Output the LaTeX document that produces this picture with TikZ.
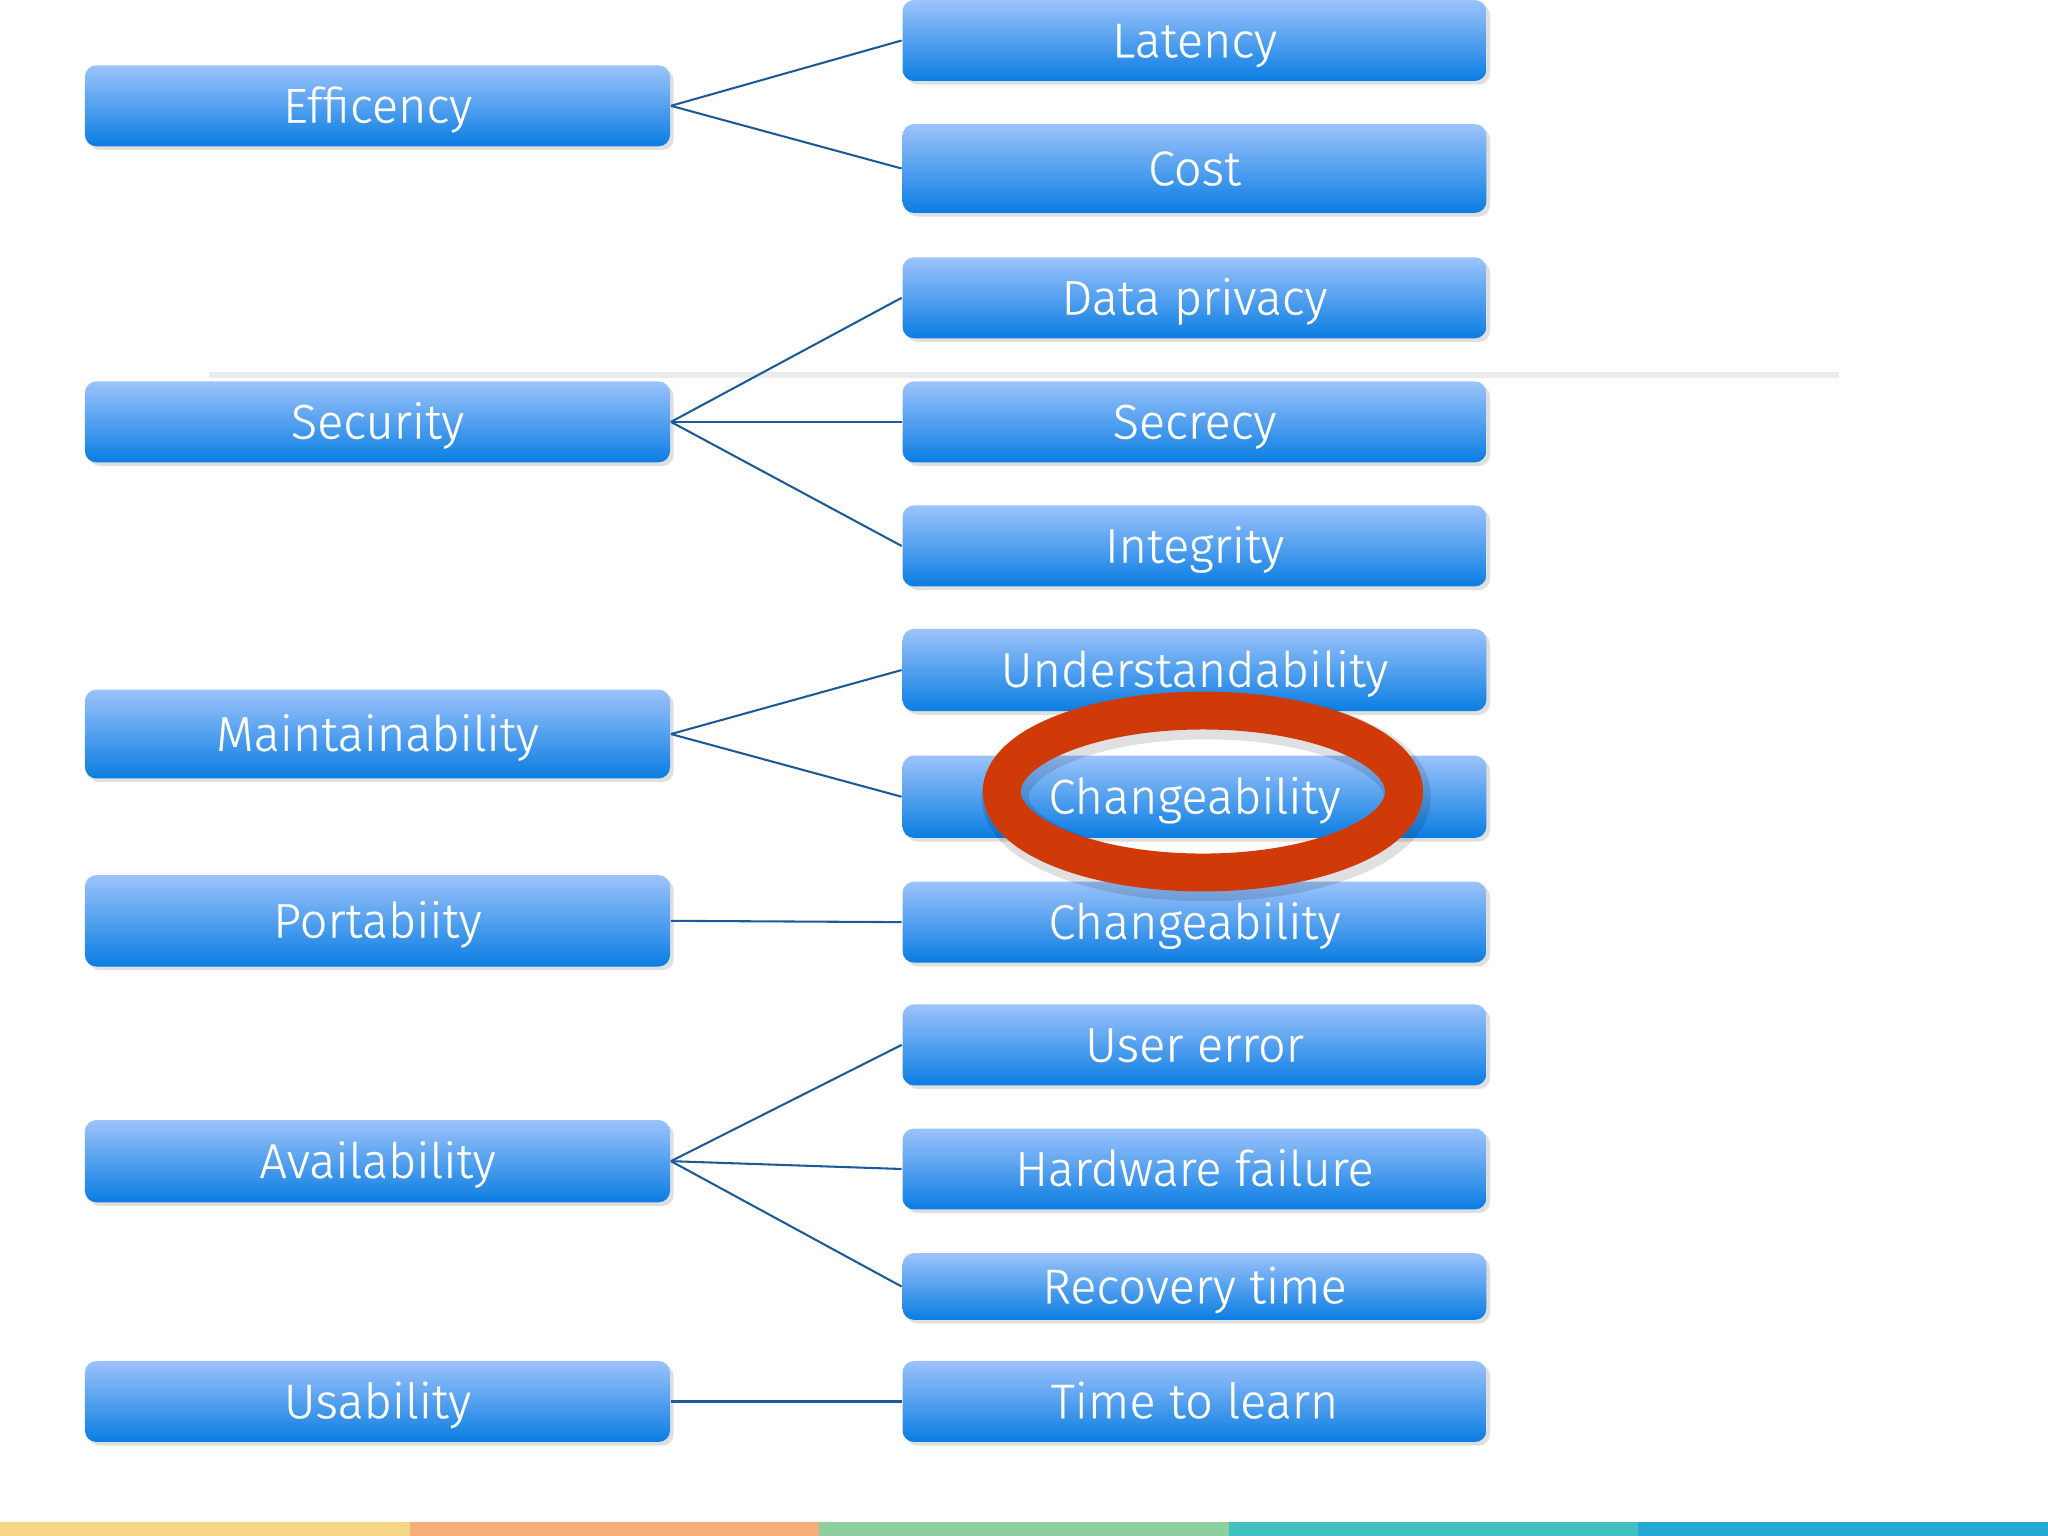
\documentclass[tikz,border=0pt]{standalone}
\usepackage{fontspec}
\setmainfont{Fira Sans}[UprightFont=* Light, UprightFeatures={FakeBold=0.4}]
\usepackage{xcolor}
\usetikzlibrary{shadows}

\definecolor{boxtop}{HTML}{9CC3FB}
\definecolor{boxbottom}{HTML}{0A7DE2}
\definecolor{linkblue}{HTML}{1D5A98}
\definecolor{ringred}{HTML}{D03A08}
\definecolor{bandA}{HTML}{F7D785}
\definecolor{bandB}{HTML}{F5AE78}
\definecolor{bandC}{HTML}{8ECF9F}
\definecolor{bandD}{HTML}{40C0BF}
\definecolor{bandE}{HTML}{25A8D3}

\tikzset{
    qbox/.style={rectangle, rounded corners=2.5pt, top color=boxtop, bottom color=boxbottom,
        text=white, inner sep=0pt, text height=7.3pt, text depth=0pt,
        font=\fontsize{10.6}{12}\selectfont,
        drop shadow={opacity=0.25, shadow xshift=0.8pt, shadow yshift=-0.8pt}},
    link/.style={draw=linkblue, line width=0.45pt}
}

\begin{document}
\begin{tikzpicture}[x=0.1mm, y=-0.1mm]

    % Page area and background
    \fill[white] (0,0) rectangle (1568,1176);
    \useasboundingbox (0,0) rectangle (1568,1176);

    % Faint rule behind the security row
    \draw[black!8, line width=1.2pt] (160,287) -- (1408,287);

    % Quality attributes (left column)
    \foreach \i/\y/\h/\txt in {1/81/62/Efficency, 2/323/62/Security, 3/562/68/Maintainability,
        4/705/70/Portabiity, 5/889/63/Availability, 6/1073/62/Usability} {
        \node[qbox, minimum width=4.48cm, minimum height=\h*0.1mm] (l\i) at (289,\y) {\txt};
    }

    % Refinements (right column)
    \foreach \i/\y/\h/\txt in {1/31/62/Latency, 2/129/68/Cost, 3/228/62/Data privacy,
        4/323/62/Secrecy, 5/418/62/Integrity, 6/513/63/Understandability,
        7/610/63/Changeability, 8/706/62/Changeability, 9/800/62/User error,
        10/895/62/Hardware failure, 11/985/51/Recovery time, 12/1073/62/Time to learn} {
        \node[qbox, minimum width=4.47cm, minimum height=\h*0.1mm] (r\i) at (914.5,\y) {\txt};
    }

    % Connect attributes to refinements
    \foreach \a/\b in {1/1, 1/2, 2/3, 2/4, 2/5, 3/6, 3/7, 4/8, 5/9, 5/10, 5/11, 6/12} {
        \draw[link] (l\a.east) -- (r\b.west);
    }

    % Red ring around the second refinement of maintainability
    \draw[black, opacity=0.12, line width=0.36cm] (r7.center) ++(9,0) ellipse (1.54cm and 0.62cm);
    \draw[ringred, line width=0.29cm] (r7.center) ++(6.5,-4) ellipse (1.54cm and 0.62cm);

    % Colour band along the bottom
    \foreach \c [count=\k from 0] in {bandA, bandB, bandC, bandD, bandE} {
        \fill[\c] (\k*313.6,1165) rectangle ({(\k+1)*313.6},1176);
    }
\end{tikzpicture}
\end{document}
